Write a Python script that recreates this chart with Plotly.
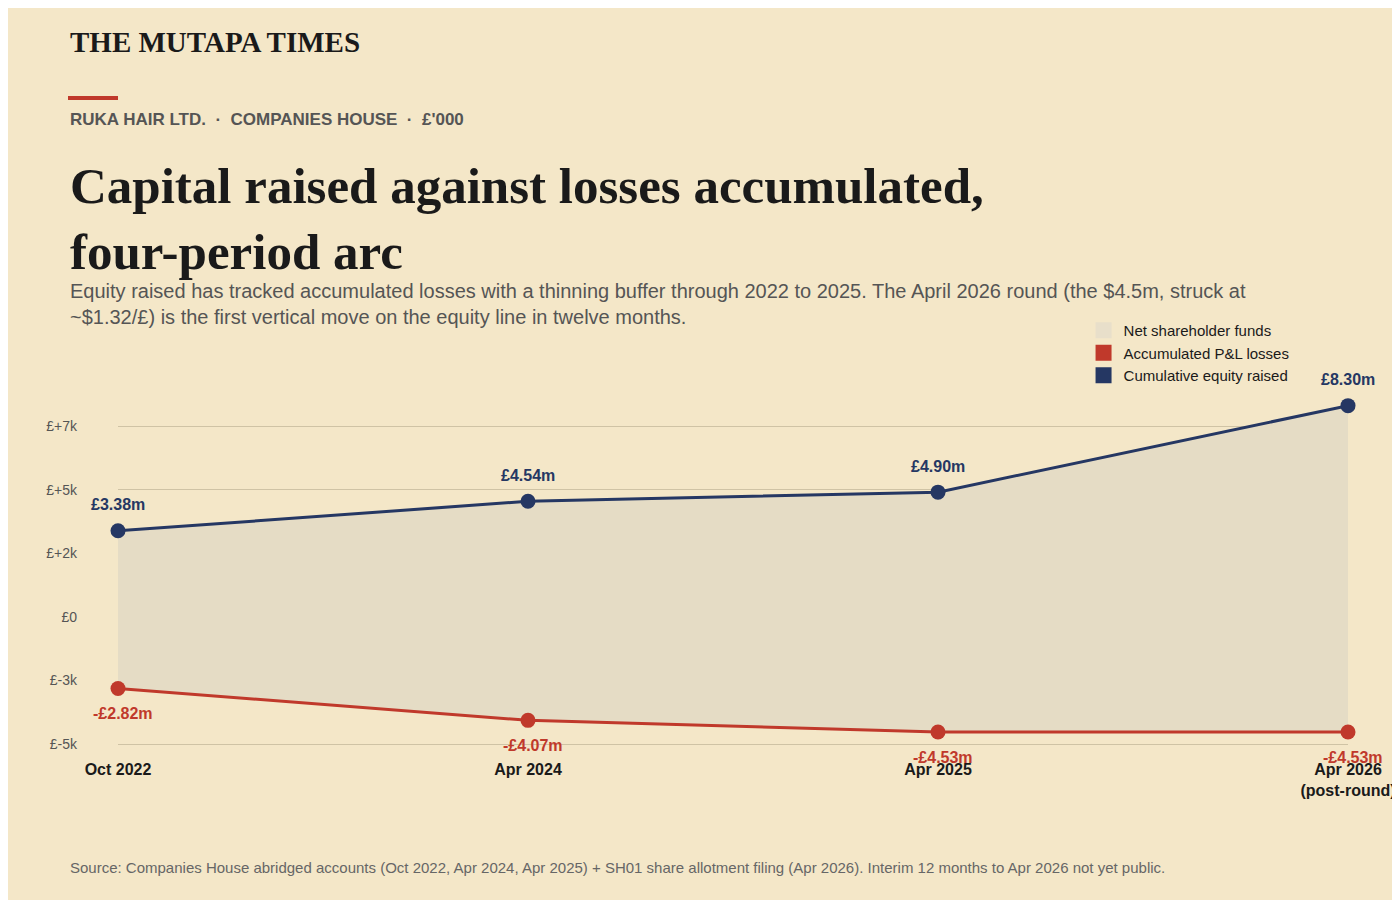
import plotly.graph_objects as go

periods = ["Oct 2022", "Apr 2024", "Apr 2025", "Apr 2026<br>(post-round)"]
equity = [3380, 4540, 4900, 8300]
losses = [-2820, -4070, -4530, -4530]
equity_lbl = ["£3.38m", "£4.54m", "£4.90m", "£8.30m"]
loss_lbl = ["-£2.82m", "-£4.07m", "-£4.53m", "-£4.53m"]
ytickvals = [7500, 5000, 2500, 0, -2500, -5000]
yticktext = ["£+7k", "£+5k", "£+2k", "£0", "£-3k", "£-5k"]

NAVY = "#253763"
RED = "#c0392b"
FILL = "#e5dcc5"
BG = "#f4e7c8"
SANS = "Liberation Sans, Arial, sans-serif"
SERIF = "Liberation Serif, Georgia, serif"

x = list(range(len(periods)))
fig = go.Figure()
fig.add_trace(go.Scatter(x=x, y=losses, mode="lines+markers", line=dict(color=RED, width=3),
                         marker=dict(size=15, color=RED), showlegend=False, cliponaxis=False))
fig.add_trace(go.Scatter(x=x, y=equity, mode="lines+markers", line=dict(color=NAVY, width=3),
                         marker=dict(size=15, color=NAVY), fill="tonexty", fillcolor=FILL,
                         showlegend=False, cliponaxis=False))
for name, col in [("Cumulative equity raised", NAVY), ("Accumulated P&L losses", RED), ("Net shareholder funds", "#e8dfca")]:
    fig.add_trace(go.Scatter(x=[None], y=[None], mode="markers", name=name,
                             marker=dict(symbol="square", size=18, color=col)))

for i in x:
    fig.add_annotation(x=i, y=equity[i], text=f"<b>{equity_lbl[i]}</b>", showarrow=False, yshift=26,
                       font=dict(family=SANS, size=16, color=NAVY))
    fig.add_annotation(x=i, y=losses[i], text=f"<b>{loss_lbl[i]}</b>", showarrow=False, yshift=-25,
                       xshift=5, font=dict(family=SANS, size=16, color=RED))

fig.update_layout(
    width=1400, height=900, paper_bgcolor=BG, plot_bgcolor=BG,
    margin=dict(l=110, r=60, t=380, b=150),
    xaxis=dict(range=[0, 3], tickvals=x, ticktext=[f"<b>{p}</b>" for p in periods],
               showgrid=False, zeroline=False, showline=False, ticks="",
               tickfont=dict(family=SANS, size=16, color="#1a1a1a")),
    yaxis=dict(range=[-5550, 8994], tickvals=ytickvals, ticktext=yticktext, showgrid=True,
               gridcolor="#cfc3a5", zeroline=False, ticks="", ticklabelstandoff=40,
               tickfont=dict(family=SANS, size=14, color="#555")),
    legend=dict(x=0.785, y=1.2, xanchor="left", yanchor="top", bgcolor="rgba(0,0,0,0)",
                font=dict(family=SANS, size=15, color="#1a1a1a"), tracegroupgap=0, itemwidth=30),
)

fig.add_annotation(xref="paper", yref="paper", x=-50/1230, y=(750-52)/370, xanchor="left", yanchor="bottom",
                   showarrow=False, text="<b>THE MUTAPA TIMES</b>",
                   font=dict(family=SERIF, size=29, color="#1a1a1a"))
fig.add_shape(type="rect", xref="paper", yref="paper", x0=-50/1230, x1=0, y0=(750-92)/370, y1=(750-88)/370,
              line=dict(width=0), fillcolor=RED)
fig.add_annotation(xref="paper", yref="paper", x=-50/1230, y=(750-111)/370, xanchor="left", yanchor="middle",
                   showarrow=False, text="<b>RUKA HAIR LTD.  ·  COMPANIES HOUSE  ·  £'000</b>",
                   font=dict(family=SANS, size=17, color="#555"))
fig.add_annotation(xref="paper", yref="paper", x=-50/1230, y=(750-148)/370, xanchor="left", yanchor="top",
                   showarrow=False, align="left",
                   text="<b>Capital raised against losses accumulated,<br>four-period arc</b>",
                   font=dict(family=SERIF, size=51, color="#1a1a1a"))
fig.add_annotation(xref="paper", yref="paper", x=-50/1230, y=(750-270)/370, xanchor="left", yanchor="top",
                   showarrow=False, align="left",
                   text="Equity raised has tracked accumulated losses with a thinning buffer through 2022 to 2025. The April 2026 round (the $4.5m, struck at<br>~$1.32/£) is the first vertical move on the equity line in twelve months.",
                   font=dict(family=SANS, size=20, color="#555"))
fig.add_annotation(xref="paper", yref="paper", x=-50/1230, y=(750-859)/370, xanchor="left", yanchor="middle",
                   showarrow=False,
                   text="Source: Companies House abridged accounts (Oct 2022, Apr 2024, Apr 2025) + SH01 share allotment filing (Apr 2026). Interim 12 months to Apr 2026 not yet public.",
                   font=dict(family=SANS, size=15, color="#666"))

fig.write_html("out.html")
